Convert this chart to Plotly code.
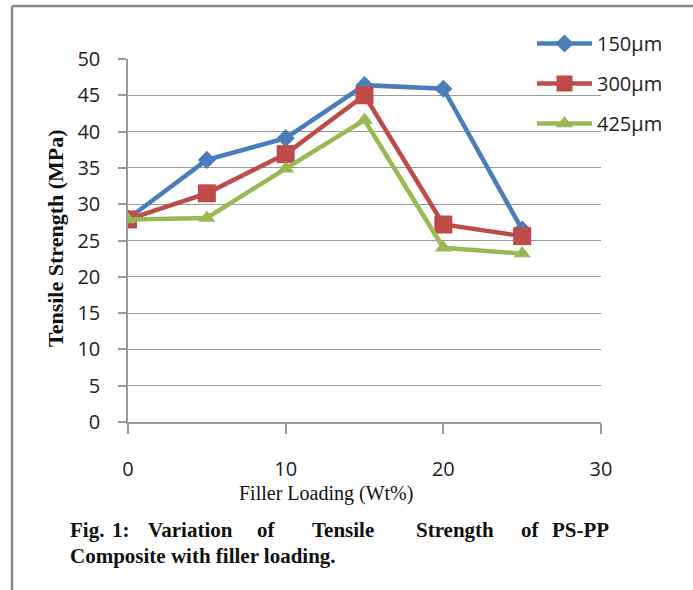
import plotly.graph_objects as go

# ---- data ----
filler = [0, 5, 10, 15, 20, 25]
s150 = [28.0, 36.1, 39.1, 46.4, 45.9, 26.5]
s300 = [27.9, 31.5, 36.9, 45.0, 27.2, 25.6]
s425 = [27.9, 28.1, 34.9, 41.6, 24.0, 23.2]
series_names = ["150µm", "300µm", "425µm"]
colors = ["#4A7EBB", "#BE4B48", "#98B954"]
symbols = ["diamond", "square", "triangle-up"]
msizes = [14, 18, 15]

x_title = "Filler Loading (Wt%)"
y_title = "Tensile Strength (MPa)"
caption1_words = ["Fig.", "1:", "Variation", "of", "Tensile", "Strength", "of", "PS-PP"]
caption2 = "Composite with filler loading."

W, H = 693, 590
L, R, T, B = 128, 601, 59, 422  # plot area pixel box


def px(x):
    return (x - L) / (R - L)


def py(y):
    return (B - y) / (B - T)


fig = go.Figure()
for name, vals, c, s, ms in zip(series_names, [s150, s300, s425], colors, symbols, msizes):
    fig.add_trace(go.Scatter(
        x=filler, y=vals, name=name, mode="lines+markers",
        line=dict(color=c, width=4.5),
        marker=dict(symbol=s, size=ms, color=c, line=dict(width=0)),
        legendgroup=name,
    ))

axis_gray = "#9a9a9a"
tick_font = dict(family="Open Sans, Liberation Sans, sans-serif", size=20, color="#222")

fig.update_xaxes(
    range=[0, 30], tickvals=[0, 10, 20, 30], showgrid=False, zeroline=False,
    showline=True, linecolor=axis_gray, linewidth=1.5,
    ticks="outside", ticklen=10, tickcolor=axis_gray, tickwidth=1.5,
    tickfont=tick_font, ticklabelstandoff=18,
)
fig.update_yaxes(
    range=[0, 50], dtick=5, showgrid=True, gridcolor=axis_gray, gridwidth=1.2,
    zeroline=False, showline=True, linecolor=axis_gray, linewidth=1.5,
    ticks="outside", ticklen=8, tickcolor=axis_gray, tickwidth=1.5,
    tickfont=tick_font, ticklabelstandoff=14,
)

serif = "Liberation Serif, Times New Roman, serif"
annotations = [
    dict(text=x_title, x=px(326), y=py(493), xref="paper", yref="paper",
         showarrow=False, xanchor="center", yanchor="middle",
         font=dict(family=serif, size=20, color="#111")),
    dict(text="<b>" + y_title + "</b>", x=px(55), y=py(238), xref="paper", yref="paper",
         showarrow=False, xanchor="center", yanchor="middle", textangle=-90,
         font=dict(family=serif, size=22, color="#111")),
]
# justified first caption line: word centres
word_center = [87, 121, 190, 266, 343, 455, 530, 580]
for w, xc in zip(caption1_words, word_center):
    annotations.append(dict(text="<b>" + w + "</b>", x=px(xc), y=py(530), xref="paper", yref="paper",
                            showarrow=False, xanchor="center", yanchor="middle",
                            font=dict(family=serif, size=21, color="#111")))
annotations.append(dict(text="<b>" + caption2 + "</b>", x=px(68), y=py(556), xref="paper", yref="paper",
                        showarrow=False, xanchor="left", yanchor="middle",
                        font=dict(family=serif, size=21, color="#111")))

shapes = [
    dict(type="line", xref="paper", yref="paper", x0=px(12), x1=px(700), y0=py(6), y1=py(6),
         line=dict(color="#8a8a8a", width=2.5)),
    dict(type="line", xref="paper", yref="paper", x0=px(12), x1=px(12), y0=py(6), y1=py(600),
         line=dict(color="#8a8a8a", width=2.5)),
]

fig.update_layout(
    width=W, height=H, autosize=False,
    margin=dict(l=L, r=W - R, t=T, b=H - B, pad=0),
    paper_bgcolor="white", plot_bgcolor="white",
    showlegend=True,
    legend=dict(x=px(532), y=py(24), xanchor="left", yanchor="top",
                bgcolor="rgba(0,0,0,0)", borderwidth=0, itemwidth=55,
                tracegroupgap=11,
                font=dict(family="Open Sans, Liberation Sans, sans-serif", size=20, color="#222")),
    annotations=annotations, shapes=shapes,
)

fig.write_html("out.html")
